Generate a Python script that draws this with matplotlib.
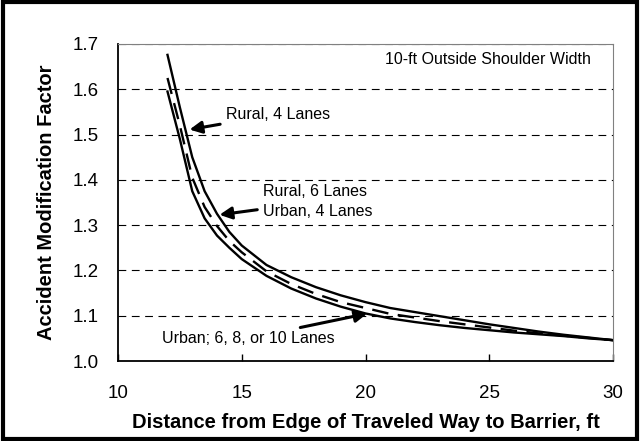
import matplotlib
matplotlib.use("Agg")
import matplotlib.pyplot as plt
from matplotlib.patches import Rectangle

plt.rcParams['font.family'] = ['Liberation Sans', 'DejaVu Sans']

# distance from edge of traveled way to barrier, ft
dist = [12, 12.5, 13, 13.5, 14, 14.5, 15, 16, 17, 18, 19, 20,
        21, 22, 23, 24, 25, 26, 27, 28, 29, 30]

# Rural, 4 lanes
amf_rural4 = [1.676, 1.56, 1.45, 1.375, 1.325, 1.285, 1.255, 1.212, 1.185, 1.163, 1.145, 1.13,
              1.117, 1.108, 1.099, 1.09, 1.081, 1.073, 1.065, 1.058, 1.052, 1.046]
# Rural, 6 lanes / Urban, 4 lanes
amf_rural6 = [1.625, 1.52, 1.405, 1.34, 1.298, 1.265, 1.24, 1.198, 1.17, 1.148, 1.13, 1.117,
              1.104, 1.096, 1.088, 1.081, 1.074, 1.067, 1.061, 1.056, 1.051, 1.046]
# Urban; 6, 8, or 10 lanes
amf_urban6 = [1.595, 1.49, 1.375, 1.315, 1.277, 1.25, 1.225, 1.188, 1.16, 1.138, 1.12, 1.105,
              1.094, 1.086, 1.079, 1.073, 1.068, 1.063, 1.059, 1.055, 1.050, 1.046]

x_ticks = [10, 15, 20, 25, 30]
y_ticks = [1.0, 1.1, 1.2, 1.3, 1.4, 1.5, 1.6, 1.7]

fig = plt.figure(figsize=(6.4, 4.41), dpi=100)
ax = fig.add_axes([118/640, 1 - 361/441, (613-118)/640, (361-44)/441])

# outer frame around the whole picture
fig.patches.append(Rectangle((0.004, 0.005), 0.992, 0.99, transform=fig.transFigure,
                             fill=False, edgecolor='black', linewidth=3))

for yv in y_ticks[1:]:
    ax.axhline(yv, color='black', linewidth=0.8, linestyle=(0, (7, 5)), zorder=1)

ax.plot(dist, amf_rural4, color='black', linewidth=1.7, zorder=3)
ax.plot(dist, amf_rural6, color='black', linewidth=1.7, linestyle=(0, (7, 4)), zorder=3)
ax.plot(dist, amf_urban6, color='black', linewidth=1.7, zorder=3)

ax.set_xlim(10, 30)
ax.set_ylim(1.0, 1.7)
ax.set_xticks(x_ticks)
ax.set_yticks(y_ticks)
ax.set_yticklabels([f"{v:.1f}" for v in y_ticks])
ax.tick_params(axis='x', direction='in', length=5, width=1, labelsize=13.5, pad=17)
ax.tick_params(axis='y', length=0, labelsize=13.5, pad=14)

ax.spines['left'].set_linewidth(1.3)
ax.spines['bottom'].set_linewidth(1.3)
ax.spines['top'].set_color('gray')
ax.spines['right'].set_color('gray')

ax.set_xlabel("Distance from Edge of Traveled Way to Barrier, ft",
              fontsize=14.5, fontweight='bold', labelpad=8)
ax.set_ylabel("Accident Modification Factor", fontsize=14.5, fontweight='bold', labelpad=12)

ax.text(0.955, 0.95, "10-ft Outside Shoulder Width", transform=ax.transAxes,
        fontsize=11.5, ha='right', va='center')

arrow = dict(arrowstyle='-|>', color='black', lw=2.2, mutation_scale=18)
ax.annotate("Rural, 4 Lanes", xy=(12.78, 1.51), xytext=(14.35, 1.545),
            fontsize=11.5, ha='left', va='center', arrowprops=arrow)
ax.annotate("Rural, 6 Lanes\nUrban, 4 Lanes", xy=(13.99, 1.322), xytext=(15.85, 1.352),
            fontsize=11.5, ha='left', va='center', linespacing=1.45, arrowprops=arrow)
ax.annotate("Urban; 6, 8, or 10 Lanes", xy=(20.18, 1.106), xytext=(18.75, 1.05),
            fontsize=11.5, ha='right', va='center', arrowprops=arrow)

fig.savefig("out.png", dpi=100)
